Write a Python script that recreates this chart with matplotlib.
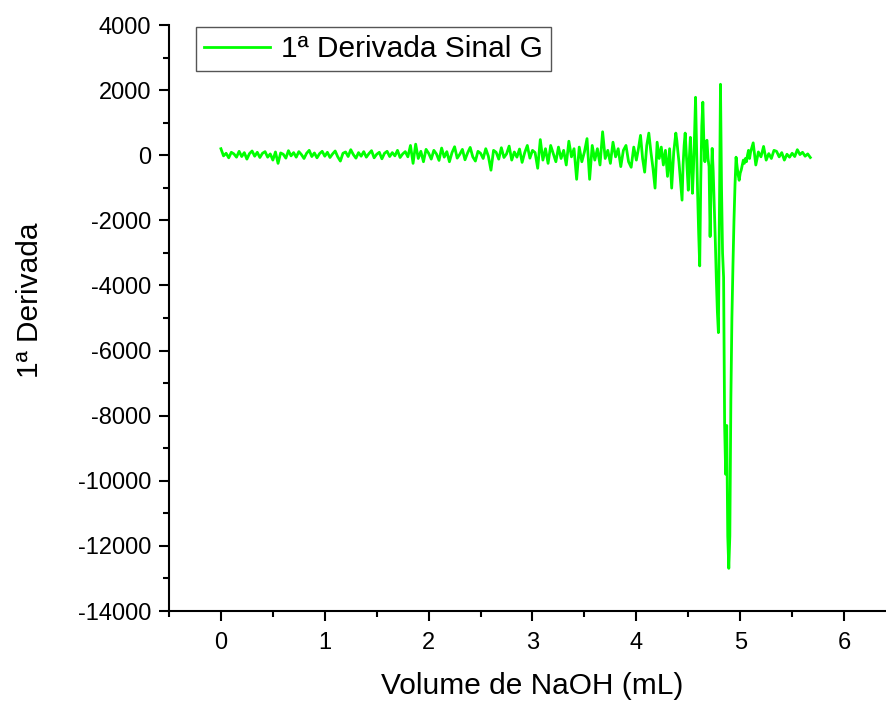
import numpy as np
import matplotlib
matplotlib.use('Agg')
import matplotlib.pyplot as plt
from matplotlib.ticker import MultipleLocator

# volume (mL), four stretches with different sampling
vol_a = [0.000, 0.025, 0.050, 0.075, 0.100, 0.125, 0.150, 0.175, 0.200, 0.225,
         0.250, 0.275, 0.300, 0.325, 0.350, 0.375, 0.400, 0.425, 0.450, 0.475,
         0.500, 0.525, 0.550, 0.575, 0.600, 0.625, 0.650, 0.675, 0.700, 0.725,
         0.750, 0.775, 0.800, 0.825, 0.850, 0.875, 0.900, 0.925, 0.950, 0.975,
         1.000, 1.025, 1.050, 1.075, 1.100, 1.125, 1.150, 1.175, 1.200, 1.225,
         1.250, 1.275, 1.300, 1.325, 1.350, 1.375, 1.400, 1.425, 1.450, 1.475,
         1.500, 1.525, 1.550, 1.575, 1.600, 1.625, 1.650, 1.675, 1.700, 1.725,
         1.750, 1.775, 1.800, 1.825, 1.850, 1.875, 1.900, 1.925, 1.950, 1.975,
         2.000, 2.025, 2.050, 2.075, 2.100, 2.125, 2.150, 2.175, 2.200, 2.225,
         2.250, 2.275, 2.300, 2.325, 2.350, 2.375, 2.400, 2.425, 2.450, 2.475,
         2.500, 2.525, 2.550, 2.575, 2.600, 2.625, 2.650, 2.675, 2.700, 2.725,
         2.750, 2.775, 2.800, 2.825, 2.850, 2.875, 2.900, 2.925, 2.950, 2.975,
         3.000, 3.025, 3.050, 3.075, 3.100, 3.125, 3.150, 3.175, 3.200, 3.225,
         3.250, 3.275, 3.300, 3.325, 3.350, 3.375, 3.400, 3.425, 3.450, 3.475,
         3.500, 3.525, 3.550, 3.575, 3.600, 3.625, 3.650, 3.675, 3.700, 3.725,
         3.750, 3.775, 3.800, 3.825, 3.850, 3.875, 3.900, 3.925, 3.950, 3.975,
         4.000]
deriv_a = [200, -20, 60, -80, 90, 40, -60, 120, -40, 80,
           -120, 50, 130, -30, 90, -70, 60, 110, -60, 40,
           -150, 100, -250, 70, 30, -90, 140, -20, 80, -60,
           110, 20, -100, 60, 150, -40, 70, -80, 50, 120,
           -30, 90, -70, 40, 130, -50, -180, 60, 100, -40,
           170, 20, -90, 80, -30, 110, -60, 50, 140, -80,
           30, 90, -110, 60, 120, -40, 80, -20, 150, -70,
           40, 110, -50, 300, -250, 340, -100, 120, -200, 180,
           60, -120, 150, 40, -160, 220, -60, 110, -200, 80,
           260, -90, 30, 180, -140, 70, 240, -50, -180, 120,
           60, -100, 200, -30, -460, 150, 90, -120, 230, -70,
           40, 280, -150, 100, -60, 190, -220, 80, 300, -90,
           150, 80, -400, 480, -150, 200, -250, 300, 50, -200,
           250, -100, 150, -300, 430, -50, 200, -740, 250, -200,
           100, 510, -740, 300, -150, 200, -300, 720, -100, 150,
           -250, 400, -50, 200, -350, 150, 300, -200, -370, 250,
           -150]

vol_b = [4.02, 4.04, 4.06, 4.08, 4.10, 4.12, 4.14, 4.16, 4.18, 4.20,
         4.22, 4.24, 4.26, 4.28, 4.30, 4.32, 4.34, 4.36, 4.38]
deriv_b = [200, 610, -100, -520, 300, 680, 100, -400, -1010, 400,
           -100, 250, -300, 150, -650, 200, -1010, 100, 680]

vol_c = [4.39, 4.40, 4.41, 4.42, 4.43, 4.44, 4.45, 4.46, 4.47, 4.48,
         4.49, 4.50, 4.51, 4.52, 4.53, 4.54, 4.55, 4.56, 4.57, 4.58,
         4.59, 4.60, 4.61, 4.62, 4.63, 4.64, 4.65, 4.66, 4.67, 4.68,
         4.69, 4.70, 4.71, 4.72, 4.73, 4.74, 4.75, 4.76, 4.77, 4.78,
         4.79, 4.80, 4.81, 4.82, 4.83, 4.84, 4.85, 4.86, 4.87, 4.88,
         4.89, 4.90, 4.91, 4.92, 4.93, 4.94, 4.95, 4.96, 4.97, 4.98,
         4.99, 5.00, 5.01, 5.02, 5.03, 5.04, 5.05, 5.06, 5.07, 5.08,
         5.09, 5.10]
deriv_c = [450, 100, -200, -600, -1000, -1380, -300, 300, 680, 100,
           -500, -1075, -100, 550, -300, -1170, -400, 600, 1780, 200,
           -1200, -2400, -3400, -800, 900, 1630, 400, -200, 400, 460,
           -100, -350, -2500, -900, 210, -500, -1500, -2600, -3800, -4800,
           -5450, -1700, 2180, -1000, -3000, -3750, -8300, -9800, -8300, -11700,
           -12690, -11700, -7500, -5000, -3400, -2000, -900, -60, -350, -600,
           -770, -550, -450, -300, -150, -250, -100, -200, 0, 150,
           -100, 100]

vol_d = [5.125, 5.150, 5.175, 5.200, 5.225, 5.250, 5.275, 5.300, 5.325, 5.350,
         5.375, 5.400, 5.425, 5.450, 5.475, 5.500, 5.525, 5.550, 5.575, 5.600,
         5.625, 5.650, 5.675]
deriv_d = [380, -300, 100, -50, 270, -150, 50, -100, 150, 120,
           -50, 80, -150, 30, -60, 60, -40, 170, 20, 90,
           -30, 40, -70]

volume = vol_a + vol_b + vol_c + vol_d
deriv = deriv_a + deriv_b + deriv_c + deriv_d

plt.rcParams['font.family'] = ['Liberation Sans', 'DejaVu Sans']
plt.rcParams['axes.unicode_minus'] = False

fig = plt.figure(figsize=(8.87, 7.04), dpi=100)
ax = fig.add_axes([169 / 887, 93 / 704, 727 / 887, 586 / 704])

ax.plot(volume, deriv, color='#00ff00', lw=2.0, label='1ª Derivada Sinal G')

ax.set_xlim(-0.5, 6.5)
ax.set_ylim(-14000, 4000)
ax.xaxis.set_major_locator(MultipleLocator(1))
ax.xaxis.set_minor_locator(MultipleLocator(0.5))
ax.yaxis.set_major_locator(MultipleLocator(2000))
ax.yaxis.set_minor_locator(MultipleLocator(1000))

ax.spines['top'].set_visible(False)
ax.spines['right'].set_visible(False)
for s in ('left', 'bottom'):
    ax.spines[s].set_linewidth(1.5)

ax.tick_params(which='major', direction='out', length=7, width=1.5,
               labelsize=17)
ax.tick_params(axis='x', which='major', pad=8)
ax.tick_params(axis='y', which='major', pad=6)
ax.tick_params(which='minor', direction='out', length=4, width=1.5)

ax.set_xlabel('Volume de NaOH (mL)', fontsize=21.5, labelpad=13)
ax.set_ylabel('1ª Derivada', fontsize=21.5)
ax.yaxis.set_label_coords(-0.172, 0.53)

leg = ax.legend(loc='upper left', bbox_to_anchor=(0.037, 0.997),
                borderaxespad=0, fontsize=21.5, handlelength=2.2,
                handletextpad=0.36, borderpad=0.28, fancybox=False,
                framealpha=1)
leg.get_frame().set_edgecolor('#555555')
leg.get_frame().set_linewidth(1.0)

fig.savefig('out.png', dpi=100)
